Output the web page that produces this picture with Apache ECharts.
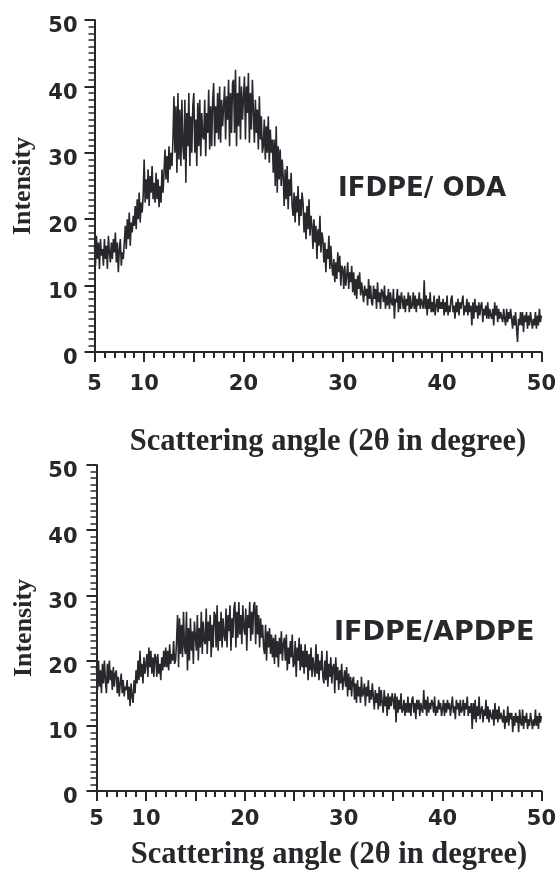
<!DOCTYPE html>
<html><head><meta charset="utf-8">
<script src="https://cdn.jsdelivr.net/npm/echarts@6/dist/echarts.min.js"></script>
<style>html,body{margin:0;padding:0;background:#fff}#c{width:559px;height:872px}</style>
</head><body><div id="c"></div>
<script>
// scan range (2θ, degrees); values are evenly spaced over it
const scanStart = 5;
const scanEnd = 50;
const xTickLabels = [5, 10, 20, 30, 40, 50];
const yTicks = [0, 10, 20, 30, 40, 50];
const panelLabels = ['IFDPE/ ODA', 'IFDPE/APDPE'];
const xTitle = 'Scattering angle (2θ in degree)';
const yTitle = 'Intensity';

// IFDPE/ODA intensity, one value every 0.1° from 5 to 50 (one row per degree)
const odaIntensity = [
  16, 13, 17.5, 14, 16.5, 12.5, 17, 14.5, 15.5, 13,
  17, 14, 16, 12.5, 17.5, 15, 13.5, 16.5, 14, 17,
  15, 18, 13.5, 16.5, 12, 15.5, 17, 13, 15, 14,
  16.5, 19, 15.5, 20, 17, 21, 16, 19.5, 18, 20.5,
  19, 22, 18.5, 23, 20, 24, 19.5, 22.5, 21, 23.5,
  29, 22.5, 26, 23, 27.5, 22, 26.5, 24, 28, 23,
  25.5, 22.5, 27, 23, 26, 21.8, 25, 22.5, 27.5, 24,
  27, 30.5, 26, 29.5, 25.5, 31, 27.5, 30, 28, 32,
  38.5, 30, 37, 27, 39, 29, 36.5, 28, 38, 31,
  29, 38, 25.5, 36, 31, 39, 28, 35.5, 30, 37,
  39, 30, 35, 28, 37.5, 31, 38, 29.5, 36, 32.5,
  32, 38, 29.5, 36, 33, 39.5, 30.5, 37, 31, 38,
  40.5, 31, 37, 33, 39, 32, 40, 31.5, 38, 34,
  34, 40, 32, 38.5, 35, 41, 31, 39, 33, 40.5,
  41, 33, 42.5, 31, 39, 34, 41.5, 32, 40, 35,
  35, 41.5, 32, 40, 36, 42, 31.5, 39, 33.5, 41,
  41, 31.5, 38, 33, 36.5, 30.5, 38.5, 32, 35.5, 30,
  31, 35, 29, 34, 30, 35.5, 28.5, 33.5, 30, 32,
  27, 32, 25, 34, 24, 31, 26, 30.5, 25, 29,
  26.5, 22, 27.5, 23, 28, 21.5, 26, 23.5, 27, 22,
  20.5, 24, 19.5, 23.5, 21, 25, 19, 23, 20.5, 24,
  22.5, 18, 21, 17, 22, 18.5, 23, 17.5, 20.5, 19,
  15.5, 20, 16.5, 19, 14, 18.5, 16, 20.5, 15, 18,
  17, 13.5, 16.5, 12, 15.5, 14, 17.5, 12.5, 16, 13,
  11.5, 14, 10.5, 13.5, 11, 15, 12, 14.5, 10, 13,
  12.5, 9.5, 13, 10, 11.5, 13.5, 9.5, 12, 10.5, 13,
  9, 12, 8.5, 11, 8, 11.5, 9.5, 12, 8.5, 10.5,
  10.5, 7.5, 10, 8.5, 9.5, 7, 11, 8, 10, 7.5,
  7, 10, 8, 9.5, 6.5, 10.5, 7.5, 9, 6.5, 9.5,
  9, 7.5, 10, 6.5, 8.5, 7, 9.5, 6.5, 9, 7.5,
  7, 9.5, 5, 8, 7.5, 9.5, 6, 8.5, 6.5, 9,
  9, 6.5, 8.5, 6, 8, 7, 9, 6, 8.5, 6.5,
  7, 9, 6.5, 8.5, 6, 8, 7, 9, 6.5, 8,
  8, 6.5, 10.8, 6.5, 8.5, 5.5, 8, 6.5, 9, 6,
  7.5, 6, 8.5, 5.5, 7, 8, 6, 8.5, 6.5, 7.5,
  6.5, 8, 5.5, 7.5, 6, 8.5, 5.5, 7, 6, 8,
  8.5, 6, 7, 5, 7.5, 6, 8, 5.5, 7.5, 6.5,
  6.5, 8.5, 5.5, 7, 6, 8, 5.5, 7.5, 6, 7,
  4, 7.5, 5, 8, 6, 7, 5, 7.5, 5.5, 7,
  7.5, 4.5, 6.5, 5.5, 7, 5, 7.5, 5, 6.5, 5.5,
  5, 6.5, 4, 7.5, 5.5, 7, 4.5, 6.5, 5, 6,
  6, 4.5, 6.5, 5, 4, 6.5, 4.5, 6, 5, 6.5,
  6.5, 3.5, 5.5, 4, 6, 3.5, 1.5, 5, 4, 6,
  4, 6, 3, 5.5, 4.5, 6, 3.5, 5.5, 4, 6,
  6, 3.5, 5, 4, 6, 3.5, 5.5, 4, 6.5, 4.5,
  5.5
];

// IFDPE/APDPE intensity, one value every 0.1° from 5 to 50 (one row per degree)
const apdpeIntensity = [
  19, 15.5, 20, 16, 18.5, 15, 19.5, 16.5, 20, 17,
  15, 19.5, 16.5, 20, 17, 18.5, 15.5, 19, 16, 18,
  18.5, 15, 17.5, 14.5, 16.5, 18, 15, 17, 14.5, 16,
  15.5, 17, 14, 16, 13, 16.5, 14.5, 13.5, 17, 15,
  18.5, 16.5, 20, 17, 21.5, 17.5, 19.5, 16.5, 20.5, 18,
  18, 21, 17.5, 22, 19, 21.5, 18, 20.5, 17.5, 21,
  20.5, 17.5, 21, 18, 19.5, 17, 20.5, 18.5, 21.5, 19,
  22, 19, 21.5, 18.5, 22.5, 19.5, 21, 20, 23, 19.5,
  20, 23, 27, 19, 26.5, 21, 25.5, 20.5, 27.5, 22,
  21, 27.5, 18.5, 25, 20, 26.5, 21.5, 24.5, 19.5, 26,
  26, 21.5, 27, 20, 25, 22, 27.5, 21, 26, 23,
  22.5, 28, 21, 26, 23, 27, 20.5, 25.5, 22, 27.5,
  27, 22, 28.5, 21.5, 26, 23, 27.5, 22, 26.5, 24,
  23, 28, 22, 27, 24.5, 28.5, 21.5, 26.5, 23.5, 28,
  29, 22, 27.5, 23.5, 29, 24, 27, 22.5, 28.5, 25,
  24, 28, 21.5, 27, 25, 29, 23, 27.5, 24, 28.5,
  29, 22.5, 28.5, 24, 27, 22, 26.5, 23.5, 25.5, 22,
  21, 25.5, 20, 24.5, 22, 25, 21, 24, 20.5, 23.5,
  19.5, 24, 20.5, 23, 19, 23.5, 21, 24.5, 20, 22.5,
  23.5, 20, 24, 18.5, 22, 19.5, 23, 20.5, 24, 19,
  19.5, 23, 17.5, 22, 20, 23.5, 18.5, 22.5, 19, 21.5,
  18, 22.5, 19, 21.5, 17, 21, 18.5, 22, 17.5, 20.5,
  20.5, 17.5, 22.5, 18, 21, 17, 20, 18.5, 21.5, 17.5,
  16.5, 20, 17, 21.5, 16, 19.5, 17.5, 20.5, 16.5, 19,
  19.5, 15, 20.5, 17, 19, 15.5, 18.5, 16.5, 19.5, 15.5,
  15.5, 18.5, 16, 19, 14.5, 18, 15.5, 17.5, 14.5, 17,
  17.5, 14, 16.5, 13.5, 17, 14.5, 16, 13.5, 17.5, 14.5,
  15, 16.5, 13, 16, 14.5, 17, 13.5, 15.5, 14, 16.5,
  16.5, 12.5, 15.5, 13.5, 15, 12.5, 16, 13, 15.5, 13.5,
  12, 15.5, 13, 14.5, 11.5, 15, 12.5, 14.5, 13, 15,
  14, 12.5, 15, 10.5, 14.5, 12, 14, 12.5, 15, 12,
  12.5, 14, 11.5, 13.5, 12, 14.5, 12, 13.5, 11.5, 14,
  14.5, 12, 13.5, 11, 14, 12.5, 14, 11.5, 13.5, 12.5,
  12, 15.5, 12.5, 14, 11.5, 14.5, 12, 13.5, 12.5, 14,
  13.5, 12, 14.5, 11.5, 13, 12, 14, 12.5, 13.5, 11.5,
  12.5, 14, 11.5, 13.5, 12, 14, 12.5, 13.5, 11.5, 13,
  14.5, 12, 13, 11, 14, 12.5, 13.5, 11.5, 14, 12,
  12.5, 14, 11.5, 13.5, 12.5, 14.5, 11.5, 13, 12, 13.5,
  9.5, 13.5, 11, 14, 10.5, 13, 11.5, 14.5, 11, 12.5,
  13, 10.5, 12.5, 11.5, 14, 11, 13, 10.5, 12.5, 11.5,
  11, 12.5, 10, 13.5, 11, 12.5, 10.5, 13, 11, 12,
  12, 10.5, 12.5, 9.5, 11.5, 10.5, 13, 10, 12, 11,
  12, 9, 11.5, 10, 12, 10.5, 11.5, 9, 12.5, 10.5,
  10, 12.5, 9.5, 11.5, 10.5, 12, 9.5, 11, 10, 12,
  12, 9.5, 11, 10, 12.5, 10, 11.5, 9.5, 12, 10.5,
  11.5
];

const INK = '#27272c';
const toPairs = arr => {
  const step = (scanEnd - scanStart) / (arr.length - 1);
  return arr.map((v, i) => [scanStart + i * step, v]);
};

function xAxisCfg(gridIndex, labelMargin, nameGap) {
  return {
    type: 'value', gridIndex, min: 5, max: 50, interval: 5,
    name: xTitle, nameLocation: 'middle', nameGap,
    nameTextStyle: { fontFamily: 'Liberation Serif', fontWeight: 'bold', fontSize: 30.5, color: INK,
      padding: [0, 0, 0, 20] },
    axisLine: { show: true, onZero: false, lineStyle: { color: INK, width: 2 } },
    axisTick: { show: true, inside: false, length: 10, lineStyle: { color: INK, width: 2 } },
    minorTick: { show: true, splitNumber: 5, length: 6, lineStyle: { color: INK, width: 2 } },
    splitLine: { show: false },
    axisLabel: {
      margin: labelMargin, fontFamily: 'DejaVu Sans', fontWeight: 'bold', fontSize: 21, color: INK,
      formatter: v => xTickLabels.includes(v) ? String(v) : ''
    }
  };
}
function yAxisCfg(gridIndex, labelMargin) {
  return {
    type: 'value', gridIndex, min: 0, max: 50, interval: 10,
    name: yTitle, nameLocation: 'middle', nameGap: 58, nameRotate: 90,
    nameTextStyle: { fontFamily: 'Liberation Serif', fontWeight: 'bold', fontSize: 26, color: INK },
    axisLine: { show: true, lineStyle: { color: INK, width: 2 } },
    axisTick: { show: true, inside: false, length: 10, lineStyle: { color: INK, width: 2 } },
    minorTick: { show: true, splitNumber: 10, length: 6, lineStyle: { color: INK, width: 1.5 } },
    splitLine: { show: false },
    axisLabel: {
      margin: labelMargin, fontFamily: 'DejaVu Sans', fontWeight: 'bold', fontSize: 21, color: INK,
      verticalAlign: 'top', lineHeight: 14,
      formatter: v => yTicks.includes(v) ? String(v) : ''
    }
  };
}

const chart = echarts.init(document.getElementById('c'), null, { renderer: 'canvas' });
chart.setOption({
  animation: false,
  backgroundColor: '#fff',
  grid: [
    { left: 94.5, top: 20, width: 447, height: 332 },
    { left: 96.5, top: 465, width: 446.5, height: 332 }
  ],
  xAxis: [xAxisCfg(0, 22, 75), xAxisCfg(1, 18, 49)],
  yAxis: [yAxisCfg(0, 17), yAxisCfg(1, 19)],
  series: [
    { type: 'line', xAxisIndex: 0, yAxisIndex: 0, data: toPairs(odaIntensity), showSymbol: false,
      lineStyle: { color: INK, width: 1.6 }, clip: true },
    { type: 'line', xAxisIndex: 1, yAxisIndex: 1, data: toPairs(apdpeIntensity), showSymbol: false,
      lineStyle: { color: INK, width: 1.6 }, clip: true }
  ],
  graphic: [
    { type: 'text', left: 338, top: 176,
      style: { text: panelLabels[0], fontFamily: 'DejaVu Sans', fontWeight: 'bold', fontSize: 26, fill: INK } },
    { type: 'text', left: 334, top: 619,
      style: { text: panelLabels[1], fontFamily: 'DejaVu Sans', fontWeight: 'bold', fontSize: 27, fill: INK } }
  ]
});
</script></body></html>
